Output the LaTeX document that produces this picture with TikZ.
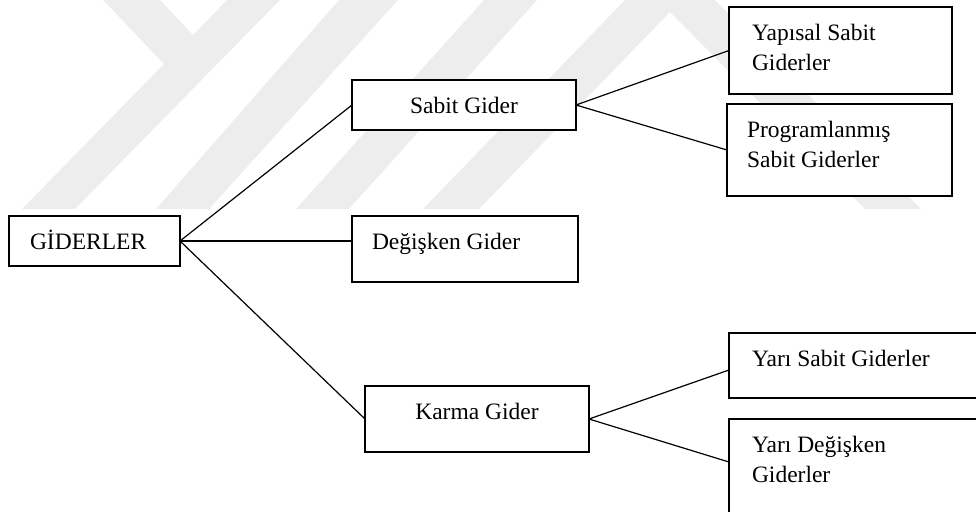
\documentclass[tikz,border=0pt]{standalone}
\usepackage{fontspec}
\setmainfont{Liberation Serif}
\usepackage{tikz}

\begin{document}
\begin{tikzpicture}[x=1pt, y=-1pt,
  kutu/.style={draw, line width=1.6pt, fill=white, inner ysep=0pt, outer sep=0pt, anchor=north west, font=\fontsize{23.5}{30}\selectfont, text height=33pt},
  hat/.style={line width=1.2pt},
  filigran/.style={fill=black!7}]
\useasboundingbox (0,0) rectangle (976,511);
\clip (0,0) rectangle (976,511);
\fill[filigran] (103,0) -- (160,0) -- (193,35) -- (227,0) -- (280,0) -- (75,209) -- (22,209) -- (164,64) -- cycle;
\fill[filigran] (339,0) -- (398,0) -- (209,209) -- (156,209) -- cycle;
\fill[filigran] (484,0) -- (537,0) -- (349,209) -- (296,209) -- cycle;
\fill[filigran] (625,0) -- (715,0) -- (921,209) -- (865,209) -- (670,12) -- (479,209) -- (423,209) -- cycle;
\node[kutu, inner xsep=21pt, text width=129pt, text depth=17pt, align=flush left] (gider) at (9,216) {GİDERLER};
\node[kutu, inner xsep=0pt, text width=224pt, text depth=17pt, align=flush center] (sabit) at (352,80) {Sabit Gider};
\node[kutu, inner xsep=20pt, text width=186pt, text depth=33pt, align=flush left] (degisken) at (352,216) {Değişken Gider};
\node[kutu, inner xsep=0pt, text width=224pt, text depth=33pt, align=flush center] (karma) at (365,386) {Karma Gider};
\node[kutu, inner xsep=23pt, text width=177pt, text height=34pt, text depth=53pt, align=flush left] (yapisal) at (729,7) {Yapısal Sabit\\Giderler};
\node[kutu, inner xsep=20pt, text width=185pt, text depth=59pt, align=flush left] (program) at (727,104) {Programlanmış\\Sabit Giderler};
\node[kutu, inner xsep=23pt, text width=220pt, text depth=32pt, align=flush left] (yarisabit) at (729,333) {Yarı Sabit Giderler};
\node[kutu, inner xsep=23pt, text width=220pt, text depth=80pt, align=flush left] (yarideg) at (729,419) {Yarı Değişken\\Giderler};
\draw[hat] (gider.east) -- (sabit.west);
\draw[hat] (gider.east) -- (gider.east -| degisken.west);
\draw[hat] (gider.east) -- (karma.west);
\draw[hat] (sabit.east) -- (yapisal.west);
\draw[hat] (sabit.east) -- (program.west);
\draw[hat] (karma.east) -- ([yshift=-37pt]yarisabit.north west);
\draw[hat] (karma.east) -- ([yshift=-43pt]yarideg.north west);
\end{tikzpicture}
\end{document}
